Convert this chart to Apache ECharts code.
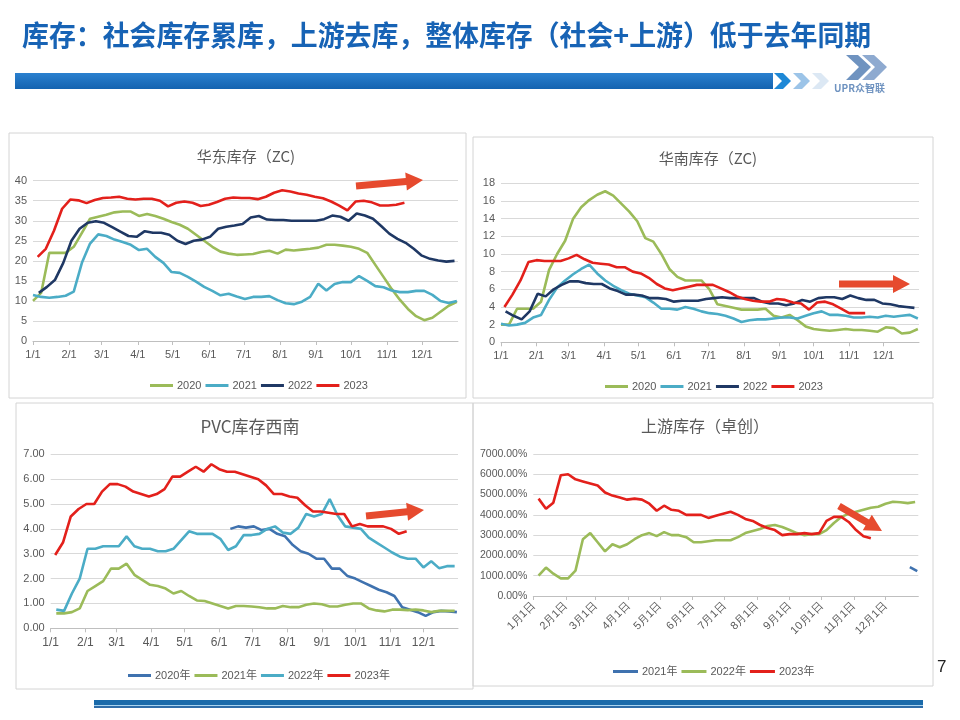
<!DOCTYPE html>
<html><head><meta charset="utf-8">
<script src="https://cdn.jsdelivr.net/npm/echarts@6/dist/echarts.min.js"></script>
<style>html,body{margin:0;padding:0;background:#fff}#c{width:960px;height:720px}</style>
</head><body><div id="c"></div>
<script>
// ---------------- DATA ----------------
const pageTitle = '库存：社会库存累库，上游去库，整体库存（社会+上游）低于去年同期';
const chartTitles = ['华东库存（ZC)', '华南库存（ZC)', 'PVC库存西南', '上游库存（卓创）'];

// 华东库存 (ZC)
const eastNames = ['2020', '2021', '2022', '2023'];
const eastStarts = ['01-01', '01-01', '01-06', '01-05'];
const east2020 = [10,12,22,22,22,23.5,27,30.5,31,31.5,32.1,32.3,32.3,31.2,31.7,31.2,30.5,29.7,29,28,26.5,25,23.5,22.3,21.8,21.5,21.6,21.7,22.2,22.5,21.8,22.8,22.6,22.8,23,23.3,24,24,23.8,23.5,23,22,19,16,13,10.3,8,6.2,5.2,5.8,7.3,8.8,9.8];
const east2021 = [11.5,11,10.8,11,11.3,12.3,19.5,24.3,26.6,26.2,25.3,24.7,24,22.7,23,21,19.5,17.2,17,16,14.8,13.5,12.5,11.4,11.8,11.1,10.5,11,11,11.2,10.2,9.4,9.2,9.8,11,14.3,12.6,14.2,14.7,14.7,16.2,15,13.7,13.4,12.6,12.2,12.2,12.5,12.5,11.5,10,9.5,10];
const east2022 = [12,13.5,15.3,19.5,25,28,29.5,29.9,29.5,28.4,27.3,26.2,26,27.4,27,27,26.5,25,24.2,25,25.3,26,28,28.5,28.8,29.2,30.8,31.2,30.3,30.2,30.2,30,30,30,30,30.4,31.3,31,30,31.8,31.3,30.5,28.7,26.8,25.5,24.5,23,21.3,20.5,20.1,19.8,20];
const east2023 = [21,23,27.5,33,35.3,35.1,34.4,35.2,35.7,35.8,36,35.5,35.3,35.5,35.5,35,33.6,34.5,34.8,34.5,33.7,34,34.7,35.5,35.8,35.7,35.7,35.4,36,37,37.6,37.3,36.8,36.5,36,35.6,34.8,33.8,32.6,34.8,35,34.6,33.8,33.8,34,34.5];

// 华南库存 (ZC)
const southNames = ['2020', '2021', '2022', '2023'];
const southStarts = ['01-01', '01-01', '01-05', '01-04'];
const south2020 = [2,2,3.8,3.8,3.8,4.6,8.2,10,11.5,14,15.3,16.1,16.7,17.1,16.6,15.7,14.8,13.7,11.8,11.4,10,8.3,7.4,7,7,7,6,4.3,4.1,3.9,3.7,3.7,3.7,3.8,3,2.8,3.1,2.5,1.8,1.5,1.4,1.3,1.4,1.5,1.4,1.4,1.3,1.2,1.7,1.6,1,1.1,1.5];
const south2021 = [2.1,1.9,2,2.2,2.8,3.1,4.8,6.2,7,7.7,8.3,8.8,7.8,7,6.4,5.9,5.5,5.3,5.1,4.5,3.8,3.8,3.7,4,3.8,3.5,3.3,3.2,3,2.7,2.3,2.5,2.6,2.6,2.7,2.8,2.8,2.7,3,3.3,3.5,3.1,3.1,3,2.8,2.8,2.9,2.8,3,2.9,3,3.1,2.7];
const south2022 = [3.5,3,2.6,3.5,5.5,5.2,6,6.5,6.9,6.9,6.7,6.6,6.6,6.1,5.8,5.4,5.4,5.3,5,5,4.9,4.6,4.7,4.7,4.7,4.9,5,5.1,5,5,5,5,4.6,4.4,4.4,4.2,4.4,4.8,4.6,5,5.1,5.1,4.9,5.3,5,4.8,4.8,4.4,4.3,4.1,4,3.9];
const south2023 = [4,5.4,7,9.1,9.3,9.2,9.2,9.2,9.5,9.9,9.4,9,8.9,8.8,8.5,8.5,8,7.8,7.3,6.6,6.1,5.9,6.1,6.3,6.5,6.5,6.5,6.1,5.7,5.2,4.9,4.7,4.6,4.6,4.9,4.8,4.5,4.4,3.7,4.5,4.6,4.3,3.8,3.3,3.3,3.3];

// PVC库存西南
const pvcNames = ['2020年', '2021年', '2022年', '2023年'];
const pvcStarts = ['06-11', '01-06', '01-06', '01-05'];
const pvc2020 = [4.0,4.1,4.05,4.1,3.95,4.0,3.8,3.7,3.35,3.1,3.0,2.8,2.8,2.4,2.4,2.1,2.0,1.85,1.7,1.55,1.45,1.3,0.85,0.75,0.65,0.5,0.65,0.7,0.68,0.65];
const pvc2021 = [0.6,0.6,0.65,0.8,1.5,1.7,1.9,2.4,2.4,2.6,2.15,1.95,1.75,1.7,1.6,1.4,1.5,1.3,1.12,1.1,1.0,0.9,0.8,0.9,0.9,0.88,0.85,0.8,0.8,0.9,0.85,0.85,0.95,1.0,0.97,0.88,0.88,0.95,1.0,1.0,0.8,0.72,0.68,0.75,0.75,0.73,0.75,0.72,0.65,0.7,0.7,0.7];
const pvc2022 = [0.75,0.7,1.4,2.0,3.2,3.2,3.3,3.3,3.3,3.7,3.3,3.2,3.2,3.1,3.1,3.2,3.55,3.9,3.8,3.8,3.8,3.6,3.15,3.3,3.75,3.75,3.8,4.0,4.1,3.85,3.8,4.05,4.6,4.5,4.6,5.2,4.55,4.1,4.05,4.0,3.65,3.45,3.25,3.05,2.88,2.8,2.8,2.45,2.7,2.42,2.5,2.5];
const pvc2023 = [2.95,3.45,4.5,4.8,5.0,5.0,5.5,5.8,5.8,5.7,5.5,5.4,5.3,5.4,5.6,6.1,6.1,6.3,6.5,6.3,6.6,6.4,6.3,6.3,6.2,6.1,6.0,5.75,5.4,5.4,5.3,5.25,4.95,4.7,4.7,4.65,4.6,4.6,4.1,4.2,4.1,4.1,4.1,4.0,3.8,3.9];

// 上游库存（卓创）, in %
const upNames = ['2021年', '2022年', '2023年'];
const upStarts = ['12-24', '01-06', '01-06'];
const up2021 = [1420,1230];
const up2022 = [1000,1400,1100,870,870,1250,2800,3100,2650,2200,2550,2400,2550,2800,3000,3100,2950,3150,3000,3000,2900,2650,2650,2700,2750,2750,2750,2900,3100,3200,3300,3450,3500,3400,3250,3100,3000,3050,3050,3250,3600,3900,4050,4150,4250,4350,4400,4550,4650,4620,4580,4630];
const up2023 = [4800,4300,4600,5950,6000,5750,5650,5550,5450,5100,4950,4850,4750,4800,4750,4550,4200,4450,4250,4200,4000,4000,4000,3850,3950,4050,4150,4000,3800,3700,3500,3350,3250,3000,3050,3050,3100,3050,3100,3700,3900,3900,3650,3250,2950,2850];

// ---------------- BUILD ----------------
const GREEN = '#9bbb59', CYAN = '#4bacc6', NAVY = '#1f3864', RED = '#e3201b', BLUE = '#3f72af';
const ARROW = '#e64a2e';
const T0 = new Date(2021, 0, 1).getTime(), T1 = new Date(2022, 0, 1).getTime();
const DAY = 864e5;
const ZW = '\u200b';

function weekly(start, vals) {
  const [m, d] = start.split('-').map(Number);
  return vals.map((v, k) => [new Date(2021, m - 1, d + 7 * k).getTime(), v]);
}
function line(name, idx, color, start, vals) {
  return { type: 'line', name: name + ZW.repeat(idx), xAxisIndex: idx, yAxisIndex: idx,
    data: weekly(start, vals), symbol: 'none', smooth: false, animation: false,
    lineStyle: { width: 2.6, color: color }, itemStyle: { color: color } };
}
const labelFont = 'Liberation Sans, Arial, sans-serif';
function xAx(idx, cn, fs) {
  return { type: 'time', gridIndex: idx, min: T0, max: T1, splitNumber: 12,
    minInterval: 28 * DAY, maxInterval: 31 * DAY,
    axisLine: { show: true, lineStyle: { color: '#bfbfbf', width: 1 } },
    axisTick: { show: true, length: 4, lineStyle: { color: '#bfbfbf' } },
    splitLine: { show: false },
    axisLabel: { color: '#595959', fontSize: fs || 11, fontFamily: labelFont, margin: 8,
      hideOverlap: false, rotate: cn ? 45 : 0,
      formatter: function (v) {
        if (v >= T1 - DAY) return '';
        const d = new Date(v);
        return cn ? (d.getMonth() + 1) + '月' + d.getDate() + '日' : (d.getMonth() + 1) + '/' + d.getDate();
      } } };
}
function yAx(idx, max, interval, fmt, fs) {
  return { type: 'value', gridIndex: idx, min: 0, max: max, interval: interval,
    axisLine: { show: false }, axisTick: { show: false },
    splitLine: { lineStyle: { color: '#d9d9d9', width: 1 } },
    axisLabel: { color: '#595959', fontSize: fs || 11, fontFamily: labelFont, margin: 6, formatter: fmt } };
}
function legend(idx, names, left, top, w) {
  return { data: names.map(n => n + ZW.repeat(idx)), left: left, top: top, icon: 'rect',
    itemWidth: w || 22, itemHeight: 3, itemGap: 4, selectedMode: false,
    formatter: n => n.replace(/\u200b/g, ''),
    textStyle: { fontSize: 11, color: '#595959', fontFamily: 'Liberation Sans, Noto Sans CJK SC, sans-serif', padding: [0, 0, 0, -1] } };
}
function title(text, x, y, fs) {
  return { text: text, left: x, top: y, textAlign: 'center',
    textStyle: { fontSize: fs, fontWeight: 'normal', color: '#595959', fontFamily: 'Noto Sans CJK SC, sans-serif' } };
}
function arrowPts(x1, y1, x2, y2, sw, hw, hl) {
  const dx = x2 - x1, dy = y2 - y1, L = Math.hypot(dx, dy), ux = dx / L, uy = dy / L, px = -uy, py = ux;
  const bx = x2 - ux * hl, by = y2 - uy * hl;
  return [[x1 + px * sw / 2, y1 + py * sw / 2], [bx + px * sw / 2, by + py * sw / 2], [bx + px * hw / 2, by + py * hw / 2],
    [x2, y2], [bx - px * hw / 2, by - py * hw / 2], [bx - px * sw / 2, by - py * sw / 2], [x1 - px * sw / 2, y1 - py * sw / 2]];
}
function arrow(x1, y1, x2, y2) {
  return { type: 'polygon', z: 100, shape: { points: arrowPts(x1, y1, x2, y2, 7, 18, 17) }, style: { fill: ARROW } };
}
function panel(x, y, w, h) {
  return { type: 'rect', z: -5, shape: { x: x, y: y, width: w, height: h }, style: { fill: 'none', stroke: '#d4d4d4', lineWidth: 1 } };
}
function chevron(x, color) {
  return { type: 'polygon', shape: { points: [[x, 73], [x + 9, 73], [x + 17, 81], [x + 9, 89], [x, 89], [x + 8, 81]] }, style: { fill: color } };
}

const option = {
  animation: false,
  backgroundColor: '#ffffff',
  title: [
    title(chartTitles[0], 241, 144, 15),
    title(chartTitles[1], 703, 146, 15),
    title(chartTitles[2], 245, 413, 17),
    title(chartTitles[3], 700, 413, 16)
  ],
  legend: [
    legend(0, eastNames, 145, 375, 23),
    legend(1, southNames, 600, 376, 23),
    legend(2, pvcNames, 123, 665, 23),
    legend(3, upNames, 608, 661, 25)
  ],
  grid: [
    { left: 33, top: 180.7, width: 425, height: 160.3 },
    { left: 501, top: 183.3, width: 418, height: 159 },
    { left: 50.7, top: 454.3, width: 407.3, height: 174 },
    { left: 533.3, top: 454, width: 385, height: 142 }
  ],
  xAxis: [xAx(0), xAx(1), xAx(2, false, 12), xAx(3, true, 11)],
  yAxis: [
    yAx(0, 40, 5),
    yAx(1, 18, 2),
    yAx(2, 7, 1, v => v.toFixed(2), 11),
    yAx(3, 7000, 1000, v => v.toFixed(2) + '%', 10.5)
  ],
  series: [
    line(eastNames[0], 0, GREEN, eastStarts[0], east2020),
    line(eastNames[1], 0, CYAN, eastStarts[1], east2021),
    line(eastNames[2], 0, NAVY, eastStarts[2], east2022),
    line(eastNames[3], 0, RED, eastStarts[3], east2023),
    line(southNames[0], 1, GREEN, southStarts[0], south2020),
    line(southNames[1], 1, CYAN, southStarts[1], south2021),
    line(southNames[2], 1, NAVY, southStarts[2], south2022),
    line(southNames[3], 1, RED, southStarts[3], south2023),
    line(pvcNames[0], 2, BLUE, pvcStarts[0], pvc2020),
    line(pvcNames[1], 2, GREEN, pvcStarts[1], pvc2021),
    line(pvcNames[2], 2, CYAN, pvcStarts[2], pvc2022),
    line(pvcNames[3], 2, RED, pvcStarts[3], pvc2023),
    line(upNames[0], 3, BLUE, upStarts[0], up2021),
    line(upNames[1], 3, GREEN, upStarts[1], up2022),
    line(upNames[2], 3, RED, upStarts[2], up2023)
  ],
  graphic: [
    // header
    { type: 'text', x: 22, y: 21, scaleX: 0.96, style: { text: pageTitle, fill: '#1763b5',
      font: 'bold 28px "Noto Sans CJK SC", sans-serif' } },
    { type: 'rect', shape: { x: 15, y: 73, width: 758, height: 16 },
      style: { fill: new echarts.graphic.LinearGradient(0, 0, 0, 1, [{ offset: 0, color: '#2a80cf' }, { offset: 1, color: '#1463b0' }]) } },
    chevron(774, '#1e88d6'),
    chevron(793, '#9cc4e8'),
    chevron(812, '#dce8f4'),
    // logo
    { type: 'polygon', shape: { points: [[846, 55], [858, 55], [871, 67], [858, 80], [846, 80], [859, 67]] }, style: { fill: '#6f93c0' } },
    { type: 'polygon', shape: { points: [[862, 55], [874, 55], [887, 67], [874, 80], [862, 80], [875, 67]] }, style: { fill: '#8eaad0' } },
    { type: 'text', left: 834, top: 83, style: { text: 'UPR众智联', fill: '#6f93c0', font: 'bold 10px "Noto Sans CJK SC", sans-serif' } },
    // panels
    panel(9, 133, 457, 265),
    panel(473, 137, 460, 261),
    panel(16, 403, 457, 286),
    panel(473, 403, 460, 283),
    // arrows
    arrow(356, 186, 423, 180),
    arrow(839, 284, 910, 284),
    arrow(366, 516, 424, 510),
    arrow(839, 506, 882, 531),
    // page number
    { type: 'text', left: 937, top: 659, style: { text: '7', fill: '#222', font: '17px "Liberation Sans", sans-serif' } },
    // footer
    { type: 'rect', shape: { x: 94, y: 700, width: 829, height: 5 }, style: { fill: '#1a6aaa' } },
    { type: 'rect', shape: { x: 94, y: 705, width: 829, height: 1 }, style: { fill: '#a9d4ef' } },
    { type: 'rect', shape: { x: 94, y: 706, width: 829, height: 2 }, style: { fill: '#2f6ca8' } }
  ]
};
const chart = echarts.init(document.getElementById('c'), null, { renderer: 'canvas' });
chart.setOption(option);
</script>
</body></html>
